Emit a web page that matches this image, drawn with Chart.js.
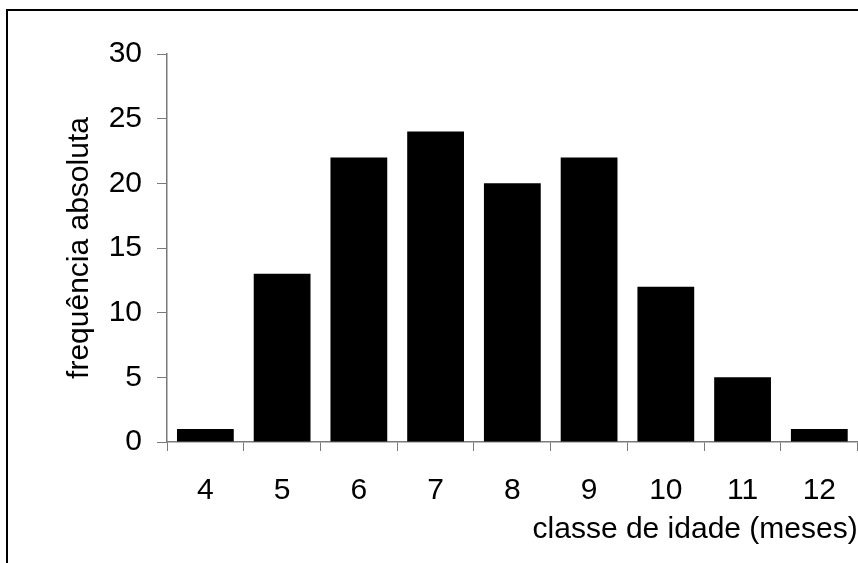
<!DOCTYPE html>
<html>
<head>
<meta charset="utf-8">
<script src="https://cdn.jsdelivr.net/npm/chart.js@4"></script>
<style>
    html, body { margin: 0; padding: 0; background: #fff; }
    #wrap { width: 858px; height: 563px; position: relative; }
</style>
</head>
<body>
<div id="wrap"><canvas id="histChart" width="858" height="563"></canvas></div>
<script>
// classes de idade (meses) e frequencias
var classes = ["4", "5", "6", "7", "8", "9", "10", "11", "12"];
var frequencias = [1, 13, 22, 24, 20, 22, 12, 5, 1];
var yTicks = [0, 5, 10, 15, 20, 25, 30];

var axisColor = "#7a7a7a";
var fontFamily = "'Liberation Sans', Arial, sans-serif";

// moldura preta em volta do grafico
var framePlugin = {
    id: "frame",
    beforeDraw: function (chart) {
        var ctx = chart.ctx;
        ctx.save();
        ctx.strokeStyle = "#000";
        ctx.lineWidth = 2;
        ctx.beginPath();
        ctx.moveTo(7, 563);
        ctx.lineTo(7, 10);
        ctx.lineTo(858, 10);
        ctx.stroke();
        ctx.restore();
    }
};

new Chart("histChart", {
    type: "bar",
    data: {
        labels: classes,
        datasets: [{
            data: frequencias,
            backgroundColor: "#000",
            borderWidth: 0,
            barPercentage: 0.74,
            categoryPercentage: 1
        }]
    },
    options: {
        responsive: false,
        animation: false,
        layout: {
            padding: { top: 54, left: 0, right: 0, bottom: 0 }
        },
        plugins: {
            legend: { display: false },
            tooltip: { enabled: false }
        },
        scales: {
            x: {
                offset: true,
                grid: {
                    offset: true,
                    drawOnChartArea: false,
                    drawTicks: true,
                    tickLength: 9,
                    color: axisColor,
                    lineWidth: 1
                },
                border: { color: axisColor, width: 1.5 },
                ticks: {
                    color: "#000",
                    padding: 22,
                    maxRotation: 0,
                    autoSkip: false,
                    font: { family: fontFamily, size: 30 }
                },
                title: {
                    display: true,
                    text: "classe de idade (meses)",
                    align: "end",
                    color: "#000",
                    padding: { top: 0, bottom: 15 },
                    font: { family: fontFamily, size: 30 }
                },
                afterFit: function (scale) {
                    scale.height = 121;
                }
            },
            y: {
                min: 0,
                max: 30,
                grid: {
                    drawOnChartArea: false,
                    drawTicks: true,
                    tickLength: 10,
                    color: axisColor,
                    lineWidth: 1
                },
                border: { color: axisColor, width: 1.5 },
                afterBuildTicks: function (scale) {
                    scale.ticks = yTicks.map(function (v) { return { value: v }; });
                },
                ticks: {
                    color: "#000",
                    padding: 15,
                    font: { family: fontFamily, size: 30 }
                },
                title: {
                    display: true,
                    text: "frequência absoluta",
                    color: "#000",
                    padding: { top: 62, bottom: 0 },
                    font: { family: fontFamily, size: 30 }
                },
                afterFit: function (scale) {
                    scale.width = 167;
                }
            }
        }
    },
    plugins: [framePlugin]
});
</script>
</body>
</html>
